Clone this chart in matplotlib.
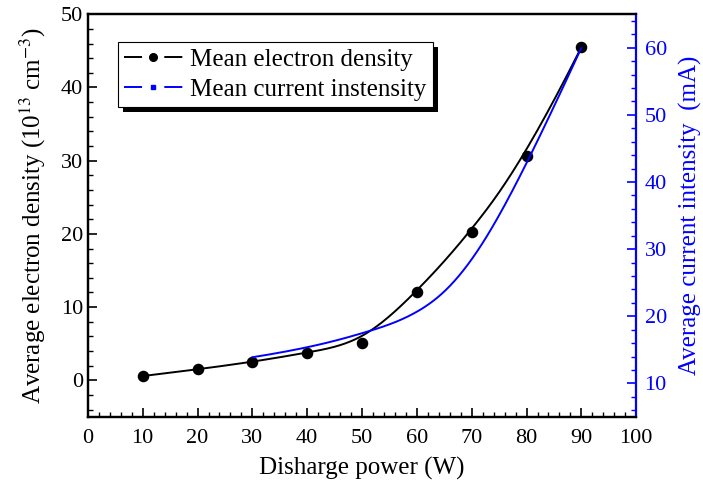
import numpy as np
import matplotlib
matplotlib.use("Agg")
import matplotlib.pyplot as plt
from matplotlib.lines import Line2D
from matplotlib.patches import Rectangle
from matplotlib.ticker import MultipleLocator

plt.rcParams['font.family'] = ['Liberation Serif', 'DejaVu Serif']
plt.rcParams['mathtext.fontset'] = 'stix'
plt.rcParams['lines.scale_dashes'] = False

power = [10, 20, 30, 40, 50, 60, 70, 80, 90]
density = [0.59, 1.5, 2.5, 3.8, 5.15, 12.1, 20.3, 30.6, 45.5]
power_cur = [30, 40, 50, 60, 70, 80, 90]
current = [13.9, 15.2, 17.4, 20.0, 26.7, 42.3, 60.0]


def bspline(xs, ys, n=400, k=3):
    P = np.column_stack([xs, ys]).astype(float)
    m = len(P)
    knots = np.concatenate([[0.0] * k, np.arange(m - k + 1, dtype=float), [float(m - k)] * k])
    t = np.linspace(0, m - k, n)
    t[-1] -= 1e-9
    B = np.zeros((n, len(knots) - 1))
    for i in range(len(knots) - 1):
        B[:, i] = ((t >= knots[i]) & (t < knots[i + 1])).astype(float)
    for p in range(1, k + 1):
        Bn = np.zeros((n, len(knots) - 1 - p))
        for i in range(len(knots) - 1 - p):
            d1 = knots[i + p] - knots[i]
            d2 = knots[i + p + 1] - knots[i + 1]
            a = (t - knots[i]) / d1 * B[:, i] if d1 > 0 else 0
            b = (knots[i + p + 1] - t) / d2 * B[:, i + 1] if d2 > 0 else 0
            Bn[:, i] = a + b
        B = Bn
    C = B @ P
    return C[:, 0], C[:, 1]


fig = plt.figure(figsize=(7.03, 4.90), dpi=100)
ax = fig.add_axes([0.125, 0.149, 0.78, 0.822])
ax2 = ax.twinx()

bx, by = bspline(power, density)
ax.plot(bx, by, color='black', lw=1.4, zorder=3)
ax.plot(power, density, 'o', color='black', ms=7.3, zorder=4)

cx, cy = bspline(power_cur, current)
ax2.plot(cx, cy, color='#0000ff', lw=1.4)

ax.set_xlim(0, 100)
ax.set_ylim(-5, 50)
ax2.set_ylim(5, 65)

ax.xaxis.set_major_locator(MultipleLocator(10))
ax.xaxis.set_minor_locator(MultipleLocator(2))
ax.yaxis.set_major_locator(MultipleLocator(10))
ax.yaxis.set_minor_locator(MultipleLocator(2))
ax2.yaxis.set_major_locator(MultipleLocator(10))
ax2.yaxis.set_minor_locator(MultipleLocator(2))

ax.tick_params(axis='both', which='major', direction='in', length=6.5, width=1.2, labelsize=16, top=False, right=False)
ax.tick_params(axis='both', which='minor', direction='in', length=3.5, width=1.0, top=False, right=False)
ax.tick_params(axis='x', pad=9)
ax2.tick_params(axis='y', which='major', direction='in', length=6.5, width=1.2, labelsize=16, colors='#0000ff', pad=6)
ax2.tick_params(axis='y', which='minor', direction='in', length=3.5, width=1.0, colors='#0000ff')

for s in ['left', 'bottom', 'top']:
    ax.spines[s].set_linewidth(1.6)
    ax2.spines[s].set_linewidth(1.6)
ax2.spines['right'].set_color('#0000ff')
ax2.spines['right'].set_linewidth(1.6)
ax.spines['right'].set_visible(False)

ax.set_xlabel('Disharge power (W)', fontsize=18, labelpad=6)
ax.set_ylabel('Average electron density (10$^{13}$ cm$^{-3}$)', fontsize=18, labelpad=9)
ax2.set_ylabel('Average current intensity  (mA)', fontsize=18, color='#0000ff', labelpad=9)

handles = [
    Line2D([], [], color='black', lw=1.4, marker='o', ms=5.5, linestyle=(0, (13, 16, 13))),
    Line2D([], [], color='#0000ff', lw=1.4, marker='s', ms=2.2, linestyle=(0, (13, 16, 13))),
]
leg = ax2.legend(handles, ['Mean electron density', 'Mean current instensity'],
                 loc='upper left', bbox_to_anchor=(0.055, 0.93), fontsize=18,
                 frameon=True, fancybox=False, edgecolor='black', framealpha=1,
                 handlelength=2.33, handletextpad=0.3, borderpad=0.25,
                 labelspacing=0.28, borderaxespad=0)
leg.get_frame().set_linewidth(0.8)
leg.set_zorder(10)

fig.canvas.draw()
bb = leg.get_frame().get_window_extent(fig.canvas.get_renderer())
shadow = Rectangle((bb.x0 + 5, bb.y0 - 5), bb.width, bb.height, transform=None,
                   facecolor='black', edgecolor='none', zorder=9)
ax2.add_artist(shadow)

fig.savefig('out.png', dpi=100)
